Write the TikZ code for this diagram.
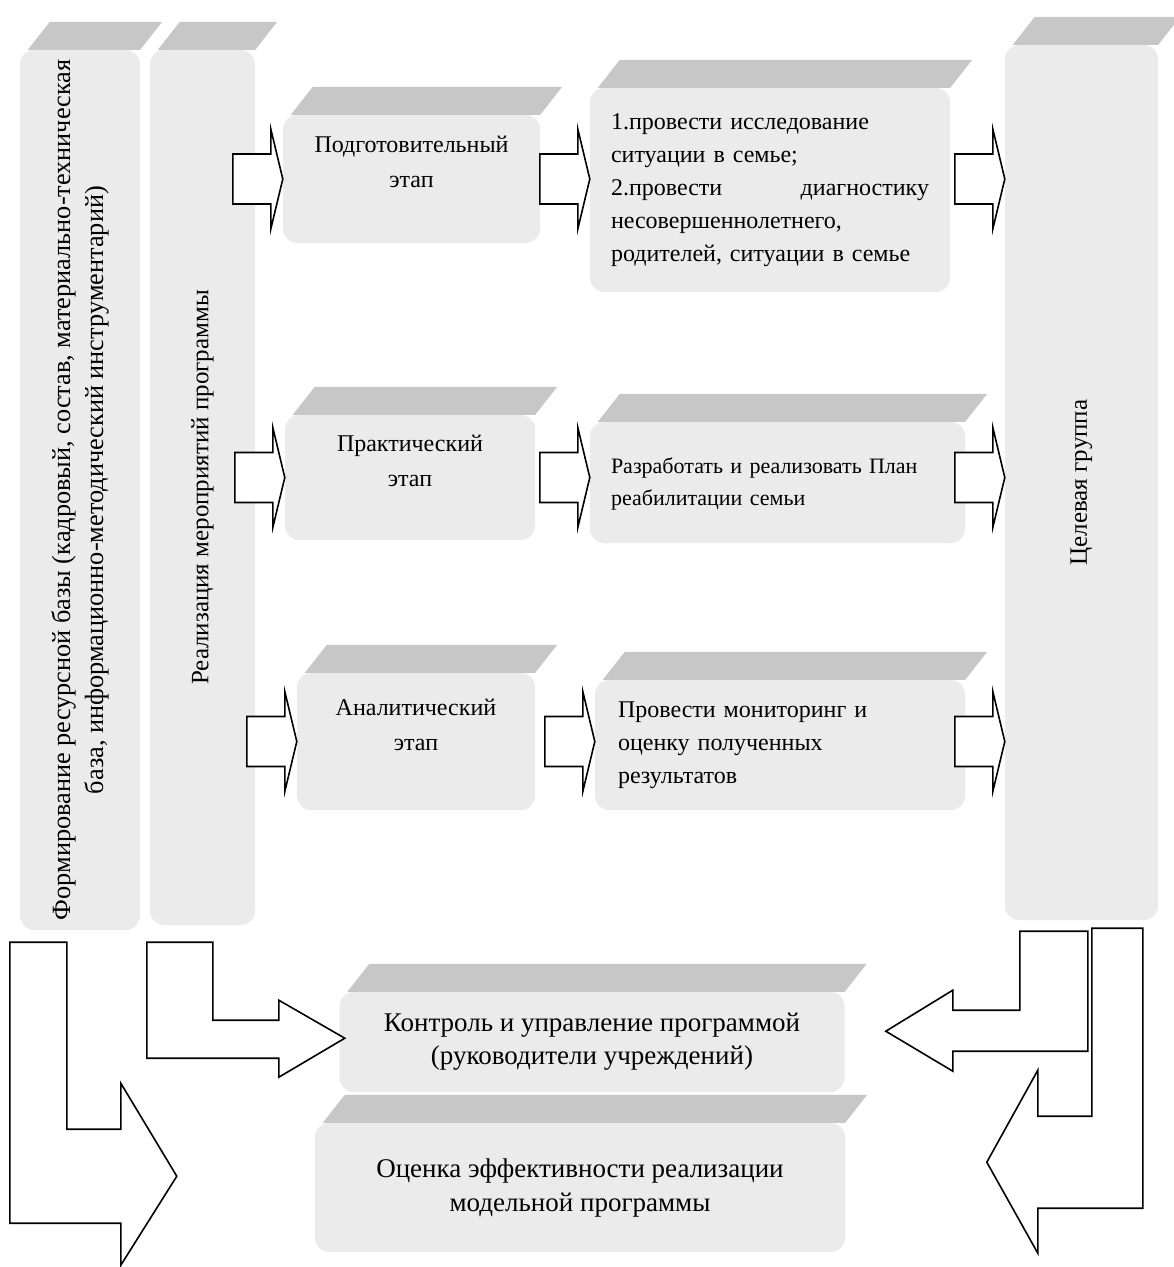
\documentclass[tikz,border=0pt]{standalone}
\usepackage{fontspec}
\setmainfont{Liberation Serif}
\usetikzlibrary{positioning,calc}

\begin{document}
\begin{tikzpicture}[x=1pt,y=1pt,
    body/.style={rectangle,rounded corners=14pt,fill=black!8,inner sep=0pt},
    bevel/.style={fill=black!22},
    stage/.style={body,align=center,font=\fontsize{24}{35}\selectfont},
    task/.style={body,align=left,font=\fontsize{24}{33}\selectfont},
    lift/.style={text depth=34pt},
    vtext/.style={rotate=90,align=center,font=\fontsize{25}{33}\selectfont},
    blockarrow/.style={draw=black,fill=white,line width=1.6pt,line join=miter},
    rarrow/.pic={\draw[blockarrow] (0,0) -- (-12,50) -- (-12,25) -- (-50,25)
                  -- (-50,-25) -- (-12,-25) -- (-12,-50) -- cycle;}
  ]
  \useasboundingbox (0,0) rectangle (1174,-1267);

  % columns
  \node[body,minimum width=120,minimum height=880] (res) at (80,-490) {};
  \node[body,minimum width=105,minimum height=875] (real) at (202.5,-487.5) {};
  \node[body,minimum width=153,minimum height=875] (tgt) at (1081.5,-482.5) {};

  \node[vtext,font=\fontsize{26.3}{33}\selectfont] (restext) at (res.center)
    {Формирование ресурсной базы (кадровый, состав, материально-техническая\\
     база, информационно-методический инструментарий)};
  \node[vtext] (realtext) at (real.center) {Реализация мероприятий программы};
  \node[vtext] (tgttext) at (tgt.center) {Целевая группа};

  % stages
  \node[stage,lift,minimum width=257,minimum height=128] (prep) at (411.5,-179)
    {Подготовительный\\этап};
  \node[stage,lift,minimum width=250,minimum height=125] (prac) at (410,-477.5)
    {Практический\\этап};
  \node[stage,lift,minimum width=238,minimum height=137] (anal) at (416,-741.5)
    {Аналитический\\этап};

  % tasks
  \node[task,minimum width=360,minimum height=204,text width=318] (diag) at (770,-190)
    {1.провести исследование\\ситуации в семье;\\2.провести\hfill диагностику\\
     несовершеннолетнего,\\родителей, ситуации в семье};
  \node[task,lift,font=\fontsize{22}{32}\selectfont,minimum width=375,minimum height=121,
    text width=333] (plan) at (777.5,-482.5)
    {Разработать и реализовать План\\реабилитации семьи};
  \node[task,minimum width=370,minimum height=130,text width=324] (monit) at (780,-745)
    {Провести мониторинг и\\оценку полученных\\результатов};

  % bottom
  \node[stage,font=\fontsize{27}{33}\selectfont,minimum width=505,minimum height=100]
    (ctrl) at (592,-1042) {Контроль и управление программой\\(руководители учреждений)};
  \node[stage,font=\fontsize{27}{34}\selectfont,minimum width=530,minimum height=129]
    (eval) at (580,-1187.5) {Оценка эффективности реализации\\модельной программы};

  % top faces
  \foreach \n in {res,real,tgt,prep,prac,anal,diag,plan,monit,ctrl,eval}
    \fill[bevel] ([xshift=8pt]\n.north west) -- (\n.north east) -- ++(22,28)
      -- ([shift={(30,28)}]\n.north west) -- cycle;

  % arrows between rows
  \foreach \s/\t in {prep/diag,prac/plan,anal/monit}{
    \pic at (\s.west) {rarrow};
    \pic at (\t.west |- \s.west) {rarrow};
    \pic at (tgt.west |- \s.west) {rarrow};
  }

  % bent arrows
  \draw[blockarrow] ([shift={(-10,-12)}]res.south west) -- ++(57,0) -- ++(0,-187)
    -- ++(54,0) -- ++(0,46) -- ++(56,-93) -- ++(-56,-89) -- ++(0,42) -- ++(-111,0) -- cycle;
  \draw[blockarrow] ([shift={(-3,-17)}]real.south west) -- ++(66,0) -- ++(0,-78)
    -- ++(66,0) -- ++(0,20) -- ++(66,-38) -- ++(-66,-39) -- ++(0,19) -- ++(-132,0) -- cycle;
  \draw[blockarrow] ([shift={(15,-11)}]tgt.south west) -- ++(68,0) -- ++(0,-120)
    -- ++(-135,0) -- ++(0,-20) -- ++(-67,40) -- ++(67,41) -- ++(0,-20) -- ++(67,0) -- cycle;
  \draw[blockarrow] ([shift={(87,-8)}]tgt.south west) -- ++(51,0) -- ++(0,-280)
    -- ++(-105,0) -- ++(0,-45) -- ++(-51,91) -- ++(51,92) -- ++(0,-46) -- ++(54,0) -- cycle;
\end{tikzpicture}
\end{document}
